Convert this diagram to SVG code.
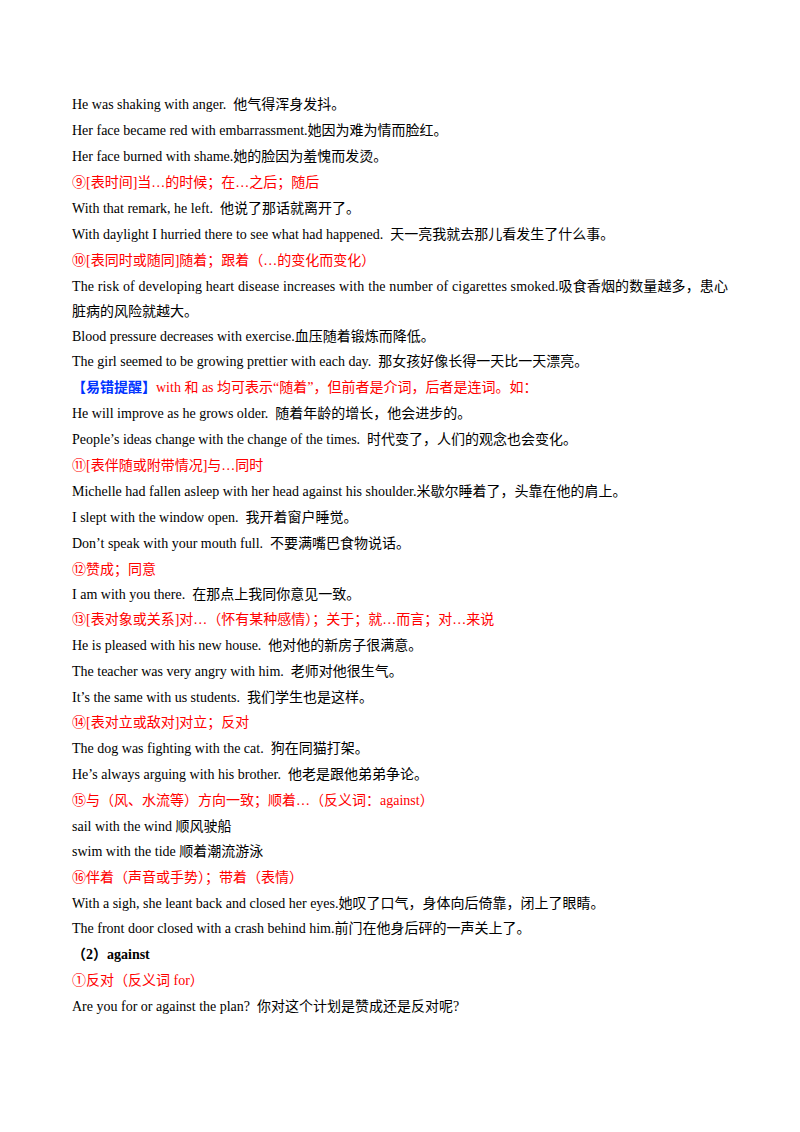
<svg xmlns="http://www.w3.org/2000/svg" width="800" height="1132" viewBox="0 0 800 1132">
<style>
text{font-family:"Liberation Serif","Noto Sans CJK SC",serif;font-size:14px;fill:#000;white-space:pre}
.r{fill:#ff0000}
.b{fill:#0033ff;font-weight:bold}
.bd{font-weight:bold}
</style>
<rect width="800" height="1132" fill="#fff"/>
<g id="body">
<text x="72" y="109">He was shaking with anger.  他气得浑身发抖。</text>
<text x="72" y="135">Her face became red with embarrassment.她因为难为情而脸红。</text>
<text x="72" y="161">Her face burned with shame.她的脸因为羞愧而发烫。</text>
<text x="72" y="187" class="r">⑨[表时间]当…的时候；在…之后；随后</text>
<text x="72" y="213">With that remark, he left.  他说了那话就离开了。</text>
<text x="72" y="239">With daylight I hurried there to see what had happened.  天一亮我就去那儿看发生了什么事。</text>
<text x="72" y="265" class="r">⑩[表同时或随同]随着；跟着（…的变化而变化）</text>
<text x="72" y="291" textLength="656" lengthAdjust="spacing">The risk of developing heart disease increases with the number of cigarettes smoked.吸食香烟的数量越多，患心</text>
<text x="72" y="316">脏病的风险就越大。</text>
<text x="72" y="341">Blood pressure decreases with exercise.血压随着锻炼而降低。</text>
<text x="72" y="366">The girl seemed to be growing prettier with each day.  那女孩好像长得一天比一天漂亮。</text>
<text x="72" y="392"><tspan class="b">【易错提醒】</tspan><tspan class="r">with 和 as 均可表示“随着”，但前者是介词，后者是连词。如：</tspan></text>
<text x="72" y="418">He will improve as he grows older.  随着年龄的增长，他会进步的。</text>
<text x="72" y="444">People’s ideas change with the change of the times.  时代变了，人们的观念也会变化。</text>
<text x="72" y="470" class="r">⑪[表伴随或附带情况]与…同时</text>
<text x="72" y="496">Michelle had fallen asleep with her head against his shoulder.米歇尔睡着了，头靠在他的肩上。</text>
<text x="72" y="522">I slept with the window open.  我开着窗户睡觉。</text>
<text x="72" y="548">Don’t speak with your mouth full.  不要满嘴巴食物说话。</text>
<text x="72" y="574" class="r">⑫赞成；同意</text>
<text x="72" y="599">I am with you there.  在那点上我同你意见一致。</text>
<text x="72" y="624" class="r">⑬[表对象或关系]对…（怀有某种感情）；关于；就…而言；对…来说</text>
<text x="72" y="650">He is pleased with his new house.  他对他的新房子很满意。</text>
<text x="72" y="676">The teacher was very angry with him.  老师对他很生气。</text>
<text x="72" y="702">It’s the same with us students.  我们学生也是这样。</text>
<text x="72" y="727" class="r">⑭[表对立或敌对]对立；反对</text>
<text x="72" y="753">The dog was fighting with the cat.  狗在同猫打架。</text>
<text x="72" y="779">He’s always arguing with his brother.  他老是跟他弟弟争论。</text>
<text x="72" y="805" class="r">⑮与（风、水流等）方向一致；顺着…（反义词：against）</text>
<text x="72" y="831">sail with the wind 顺风驶船</text>
<text x="72" y="856">swim with the tide 顺着潮流游泳</text>
<text x="72" y="882" class="r">⑯伴着（声音或手势）；带着（表情）</text>
<text x="72" y="908">With a sigh, she leant back and closed her eyes.她叹了口气，身体向后倚靠，闭上了眼睛。</text>
<text x="72" y="933">The front door closed with a crash behind him.前门在他身后砰的一声关上了。</text>
<text x="72" y="959" class="bd">（2）against</text>
<text x="72" y="985" class="r">①反对（反义词 for）</text>
<text x="72" y="1011">Are you for or against the plan?  你对这个计划是赞成还是反对呢?</text>
</g>
</svg>
